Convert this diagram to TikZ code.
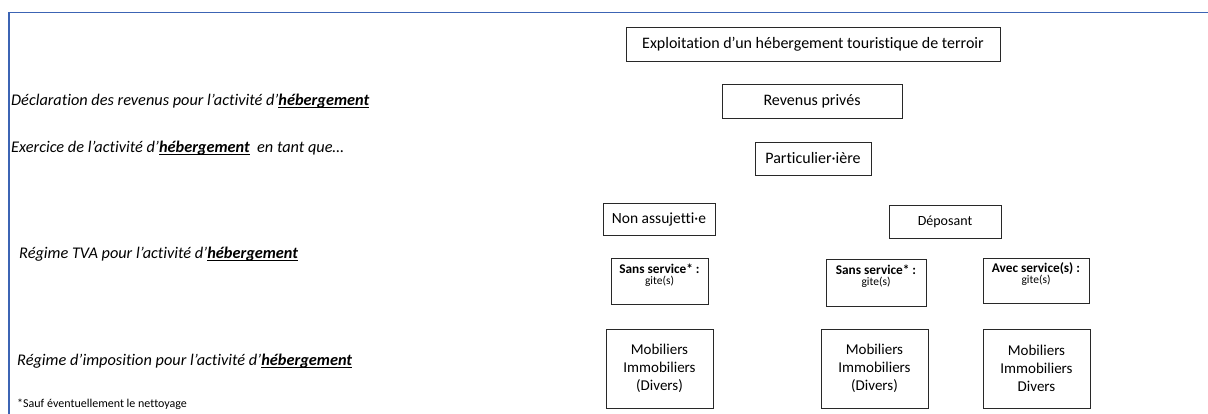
\documentclass[tikz,border=0pt]{standalone}
\usepackage{fontspec}
\setmainfont{Carlito}[Ligatures=NoCommon]
\definecolor{frameblue}{RGB}{60,100,180}
\definecolor{boxline}{RGB}{40,40,40}
\newsavebox\hebbox
\newcommand\heb{\sbox\hebbox{\textbf{hébergement}}\leavevmode\rlap{\raisebox{-2.6pt}{\rule{\wd\hebbox}{1.1pt}}}\usebox\hebbox}
\newcommand\fsz[1]{\fontsize{#1pt}{1.2\dimexpr#1pt\relax}\selectfont}
\begin{document}
\begin{tikzpicture}[x=1pt,y=-1pt,
  box/.style={draw=boxline, line width=0.8pt, inner sep=0pt, align=center},
  lbl/.style={anchor=west, inner sep=0pt, font=\fsz{16.3}\itshape},
  txt/.style={inner sep=0pt, align=center}]
\useasboundingbox (0,0) rectangle (1208,414);
\fill[white] (0,0) rectangle (1208,414);
\draw[frameblue, line width=1.6pt] (9,414) -- (9,12.5) -- (1208,12.5);

% left labels
\node[lbl] (l1) at (11,101) {Déclaration des revenus pour l’activité d’\heb};
\node[lbl] (l2) at (11,148) {Exercice de l’activité d’\heb\ \ en tant que…};
\node[lbl] (l3) at (19,254) {Régime TVA pour l’activité d’\heb};
\node[lbl] (l4) at (17,361) {Régime d’imposition pour l’activité d’\heb};
\node[anchor=west, inner sep=0pt, font=\fsz{12}] (fn) at (17,404) {*Sauf éventuellement le nettoyage};

% boxes
\node[box, minimum width=374pt, minimum height=34pt, font=\fsz{16}] (expl) at (813,44) {Exploitation d’un hébergement touristique de terroir};
\node[box, minimum width=180pt, minimum height=34pt, font=\fsz{16}] (rev) at (812,101) {Revenus privés};
\node[box, minimum width=116pt, minimum height=33pt, font=\fsz{16}] (part) at (813,158.5) {Particulier·ière};
\node[box, minimum width=112pt, minimum height=32pt, font=\fsz{15.5}] (nonass) at (659,219) {Non assujetti·e};
\node[box, minimum width=112pt, minimum height=33pt, font=\fsz{14}] (dep) at (945,221.5) {Déposant};

\node[box, minimum width=97pt, minimum height=46pt] (ssl) at (659.5,281) {};
\node[txt] (sslt) at (659.5,275) {{\fsz{13.3}\textbf{Sans service* :}}\\[-1pt]{\fsz{11.5}gite(s)}};
\node[box, minimum width=100pt, minimum height=47pt] (ssm) at (876,282.5) {};
\node[txt] (ssmt) at (876,276.5) {{\fsz{13.3}\textbf{Sans service* :}}\\[-1pt]{\fsz{11.5}gite(s)}};
\node[box, minimum width=106pt, minimum height=45pt] (avec) at (1036,280.5) {};
\node[txt] (avect) at (1036,274.5) {{\fsz{13.3}\textbf{Avec service(s) :}}\\[-1pt]{\fsz{11.5}gite(s)}};

\node[box, minimum width=107pt, minimum height=79pt, font=\fsz{15}] (mobl) at (659.5,368.5) {Mobiliers\\Immobiliers\\(Divers)};
\node[box, minimum width=107pt, minimum height=79pt, font=\fsz{15}] (mobm) at (874.5,368.5) {Mobiliers\\Immobiliers\\(Divers)};
\node[box, minimum width=107pt, minimum height=79pt, font=\fsz{15}] (mobr) at (1036.5,368.5) {Mobiliers\\Immobiliers\\Divers};
\end{tikzpicture}
\end{document}
